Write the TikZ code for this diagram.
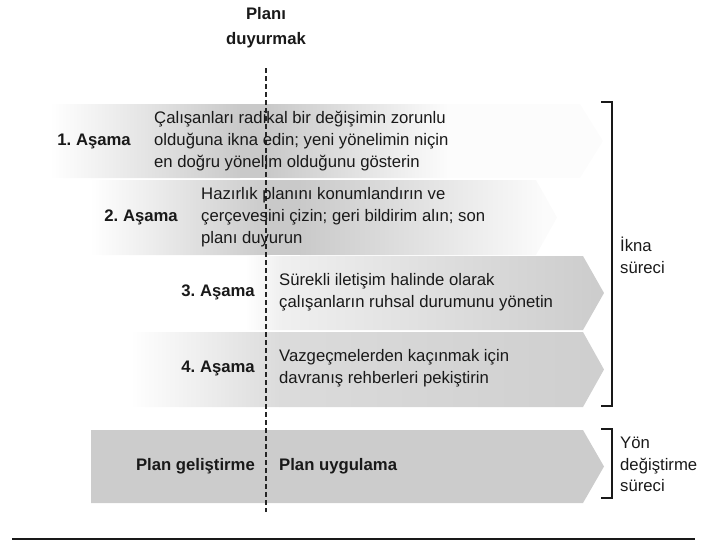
\documentclass[tikz,border=0pt]{standalone}
\usepackage{fontspec}
\setmainfont{Liberation Sans}
\frenchspacing
\begin{document}
\begin{tikzpicture}[x=1pt,y=-1pt,
  txt/.style={font=\fontsize{16.7}{21.7}\selectfont, inner sep=0pt, text=black!90, align=left},
  lbl/.style={font=\fontsize{16.7}{21.7}\selectfont\bfseries, inner sep=0pt, text=black!90},
  brk/.style={line width=1.5pt, draw=black!90},
  dashline/.style={line width=1.8pt, draw=black!85, dash pattern=on 5pt off 3pt},
]
\useasboundingbox (0,0) rectangle (709,542);
\colorlet{bandgray}{black!21}

% row 1
\begin{scope}
\clip (40,104) -- (580,104) -- (603,141) -- (580,178) -- (40,178) -- cycle;
\shade[left color=white, right color=bandgray] (50,104) rectangle (240,178);
\fill[bandgray] (239.5,104) rectangle (270.5,178);
\shade[left color=bandgray, right color=black!1] (270,104) rectangle (450,178);
\fill[black!1] (449.5,104) rectangle (610,178);
\end{scope}

% row 2
\begin{scope}
\clip (60,180) -- (536,180) -- (557,217.5) -- (536,255) -- (60,255) -- cycle;
\shade[left color=white, right color=bandgray] (90,180) rectangle (270,255);
\fill[bandgray] (269.5,180) rectangle (300.5,255);
\shade[left color=bandgray, right color=black!1.5] (300,180) rectangle (545,255);
\fill[black!1.5] (544.5,180) rectangle (560,255);
\end{scope}

% row 3
\begin{scope}
\clip (130,256) -- (583,256) -- (604,293) -- (583,330) -- (130,330) -- cycle;
\shade[left color=white, right color=black!6] (245,256) rectangle (280,330);
\shade[left color=black!6, right color=black!20] (279.5,256) rectangle (604,330);
\end{scope}

% row 4
\begin{scope}
\clip (100,332) -- (583,332) -- (604,369.5) -- (583,407) -- (100,407) -- cycle;
\shade[left color=white, right color=black!14] (130,332) rectangle (280,407);
\shade[left color=black!14, right color=black!19] (279.5,332) rectangle (604,407);
\end{scope}

% bottom bar
\fill[black!20] (91,430) -- (583,430) -- (604,466.5) -- (583,503) -- (91,503) -- cycle;

% dashed divider
\coordinate (dtop) at (266,68);
\coordinate (dbot) at (266,512);
\draw[dashline] (dtop) -- (dbot);

% title
\node[lbl, align=center, font=\fontsize{16.7}{25}\selectfont\bfseries] (title) at (266,28) {Planı\\duyurmak};

% row texts
\node[lbl, anchor=east] (l1) at (131,141) {1. Aşama};
\node[txt, anchor=west] (t1) at (154,141) {Çalışanları radikal bir değişimin zorunlu\\olduğuna ikna edin; yeni yönelimin niçin\\en doğru yönelim olduğunu gösterin};

\node[lbl, anchor=east] (l2) at (178,217) {2. Aşama};
\node[txt, anchor=west] (t2) at (201,217) {Hazırlık planını konumlandırın ve\\çerçevesini çizin; geri bildirim alın; son\\planı duyurun};

\node[lbl, anchor=east] (l3) at (255,292) {3. Aşama};
\node[txt, anchor=west] (t3) at (279,292.5) {Sürekli iletişim halinde olarak\\çalışanların ruhsal durumunu yönetin};

\node[lbl, anchor=east] (l4) at (255,368.5) {4. Aşama};
\node[txt, anchor=west] (t4) at (279,368.5) {Vazgeçmelerden kaçınmak için\\davranış rehberleri pekiştirin};

\node[lbl, anchor=east] (pg) at (255,466.5) {Plan geliştirme};
\node[lbl, anchor=west] (pu) at (279,466.5) {Plan uygulama};

% brackets
\coordinate (b1a) at (601,102);
\coordinate (b1b) at (612,102);
\coordinate (b1c) at (612,406);
\coordinate (b1d) at (601,406);
\draw[brk] (b1a) -- (b1b) -- (b1c) -- (b1d);
\coordinate (b2a) at (601,429);
\coordinate (b2b) at (612,429);
\coordinate (b2c) at (612,498);
\coordinate (b2d) at (601,498);
\draw[brk] (b2a) -- (b2b) -- (b2c) -- (b2d);

\node[txt, anchor=west] (ikna) at (620,255) {İkna\\süreci};
\node[txt, anchor=west] (yon) at (620,464.5) {Yön\\değiştirme\\süreci};

% bottom rule
\coordinate (ra) at (12,539);
\coordinate (rb) at (695,539);
\draw[line width=2pt, black!90] (ra) -- (rb);
\end{tikzpicture}
\end{document}
